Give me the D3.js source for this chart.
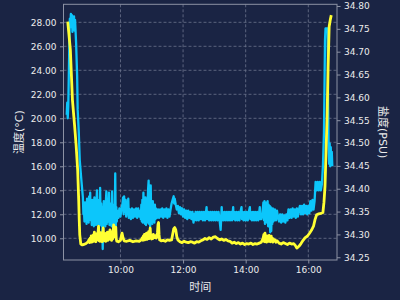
<!DOCTYPE html>
<html><head><meta charset="utf-8">
<script src="https://cdn.jsdelivr.net/npm/d3@7"></script>
<style>html,body{margin:0;padding:0;background:#1a2444;} svg{display:block}</style>
</head><body><svg id="c" width="400" height="300"></svg>
<script>
// Temperature (°C), left axis
const temperature = [
["08:17",20.3],["08:18",21.3],["08:19",20.0],["08:20",21.0],["08:21",23.5],["08:22",26.0],["08:23",28.3],["08:24",27.6],["08:25",28.7],["08:26",27.9],["08:27",28.6],["08:28",27.2],["08:29",28.4],["08:30",27.5],["08:31",28.5],["08:32",27.3],["08:33",28.2],
["08:35",26.3],["08:37",23.5],["08:38",20.7],["08:40",19.0],["08:42",16.5],["08:45",14.9],["08:48",13.4],["08:49",12.0],
["08:50",12.3],["08:51",11.4],["08:52",13.0],["08:53",11.5],["08:54",12.8],["08:55",11.2],["08:56",13.3],["08:57",11.6],["08:58",12.5],["08:59",11.3],
["09:00",13.5],["09:01",11.7],["09:02",13.8],["09:03",11.5],["09:04",12.9],["09:05",11.1],["09:06",13.2],["09:07",11.4],["09:08",12.6],["09:09",11.0],
["09:10",13.4],["09:11",11.3],["09:12",12.8],["09:13",11.1],["09:14",13.0],["09:15",14.0],["09:16",11.2],["09:17",12.7],["09:18",11.4],["09:19",13.2],
["09:20",11.1],["09:21",14.2],["09:22",11.6],["09:23",12.9],["09:24",11.0],["09:25",12.6],["09:26",9.1],["09:27",11.8],["09:28",13.1],["09:29",11.2],
["09:30",12.7],["09:31",11.0],["09:32",13.0],["09:33",13.9],["09:34",11.2],["09:35",12.8],["09:36",11.4],["09:37",12.5],["09:38",13.8],["09:39",11.1],
["09:40",12.6],["09:41",11.3],["09:42",12.9],["09:43",11.0],["09:44",13.9],["09:45",11.5],["09:46",12.4],["09:47",10.7],["09:48",12.8],["09:49",11.2],
["09:50",15.4],["09:51",11.0],["09:52",12.6],["09:53",11.4],["09:54",12.3],
["09:56",11.7],["09:58",12.5],["10:00",11.8],["10:02",12.5],["10:04",12.9],["10:05",13.4],["10:06",12.0],["10:07",13.5],["10:08",12.2],["10:10",13.2],
["10:11",11.8],["10:13",12.5],["10:15",13.3],["10:16",11.7],["10:18",12.4],["10:20",11.6],["10:22",12.5],["10:24",11.7],["10:26",12.4],["10:28",11.8],
["10:30",12.5],["10:32",11.7],["10:34",12.5],["10:36",11.8],
["10:38",12.3],["10:39",11.6],["10:40",12.8],["10:41",11.4],["10:42",13.2],["10:43",11.3],["10:44",13.8],["10:45",11.5],["10:46",12.9],["10:47",11.2],
["10:48",13.4],["10:49",11.1],["10:50",13.0],["10:51",11.3],["10:52",12.7],["10:53",14.1],["10:54",14.8],["10:55",11.2],["10:56",13.3],["10:57",11.0],
["10:58",14.4],["10:59",11.4],["11:00",12.9],["11:01",11.2],["11:02",13.1],["11:03",11.5],["11:04",12.7],["11:05",11.3],["11:06",12.8],["11:07",11.6],
["11:08",12.5],["11:10",11.7],["11:12",12.4],["11:14",11.7],["11:16",12.4],["11:18",11.8],["11:20",12.5],["11:22",11.7],["11:24",12.4],["11:26",11.8],
["11:28",12.5],["11:30",11.7],["11:32",12.4],["11:34",11.8],["11:36",12.4],["11:38",12.9],["11:40",13.2],["11:42",13.5],["11:43",12.9],["11:44",13.3],
["11:46",12.8],["11:48",12.4],["11:50",12.7],["11:52",12.1],["11:54",12.6],["11:56",12.0],["11:58",12.5],["12:00",11.8],["12:02",12.4],["12:04",11.7],
["12:06",12.3],["12:08",11.6],["12:10",12.3],["12:12",11.7],["12:14",12.2],["12:16",11.6],["12:18",12.2],["12:20",11.3],["12:21",12.0],["12:22",11.5],
["12:24",12.2],["12:26",11.5],["12:28",12.2],["12:30",11.5],["12:32",12.2],["12:34",11.6],["12:36",12.2],["12:38",11.5],["12:40",12.2],["12:42",11.5],
["12:44",12.2],["12:45",12.6],["12:46",11.6],["12:48",12.2],["12:50",11.5],["12:52",12.2],["12:54",11.5],["12:56",12.2],["12:58",11.5],["13:00",12.2],
["13:02",11.5],["13:04",12.2],["13:06",11.5],["13:08",12.2],["13:10",11.5],["13:12",10.7],["13:13",11.6],["13:14",12.6],["13:15",11.5],["13:16",12.2],
["13:18",11.5],["13:20",12.2],["13:22",11.5],["13:24",12.2],["13:26",11.5],["13:28",12.2],["13:30",11.5],["13:32",12.2],["13:34",11.5],["13:36",12.6],
["13:37",11.6],["13:38",12.2],["13:40",11.5],["13:42",12.2],["13:44",11.5],["13:46",12.2],["13:48",11.5],["13:50",12.2],["13:52",12.6],["13:53",11.6],
["13:54",12.2],["13:56",11.5],["13:58",12.2],["14:00",11.5],["14:02",12.2],["14:04",11.5],["14:06",12.2],["14:08",12.6],["14:09",11.6],["14:10",12.2],
["14:12",11.5],["14:14",12.2],["14:16",11.5],["14:18",12.2],["14:20",11.5],["14:22",12.2],["14:24",11.5],["14:26",12.2],["14:27",12.6],["14:28",11.6],
["14:30",11.6],["14:32",12.1],["14:34",13.0],["14:35",11.5],["14:36",13.1],["14:37",11.2],["14:38",13.0],["14:39",11.6],["14:40",12.9],["14:41",11.3],
["14:42",13.1],["14:43",11.0],["14:44",12.8],["14:45",11.4],["14:46",12.7],["14:47",10.5],["14:48",12.6],["14:49",10.6],["14:50",12.4],["14:51",11.2],
["14:52",12.5],["14:53",11.4],["14:54",12.3],["14:55",11.5],["14:56",12.4],["14:58",11.5],["15:00",12.3],["15:02",11.7],["15:04",11.4],["15:06",12.0],
["15:08",11.3],["15:10",12.0],["15:12",11.4],["15:14",11.9],["15:16",11.3],["15:18",12.0],["15:20",11.5],["15:22",12.4],["15:24",11.7],["15:26",12.4],
["15:28",11.7],["15:30",12.5],["15:32",11.8],["15:34",12.4],["15:36",11.7],["15:38",12.5],["15:40",11.8],["15:42",12.4],["15:44",12.7],["15:46",12.0],
["15:48",12.7],["15:50",12.0],["15:52",12.8],["15:54",12.1],["15:56",12.7],["15:58",12.0],["16:00",12.7],["16:02",12.1],["16:04",13.1],["16:06",12.3],
["16:08",13.2],["16:10",12.4],["16:12",13.1],["16:14",14.7],["16:16",14.0],["16:18",14.7],["16:20",14.0],["16:22",14.7],["16:24",14.0],["16:26",14.5],
["16:28",16.0],["16:30",18.8],["16:31",22.4],["16:32",26.5],["16:33",27.5],["16:37",27.5],["16:38",21.0],["16:39",17.8],["16:40",16.2],["16:41",17.9],
["16:42",16.0],["16:43",17.6],["16:44",16.3],["16:45",17.2],["16:46",16.0]
];
// Salinity (PSU), right axis
const salinity = [
["08:19",34.766],["08:24",34.704],["08:28",34.594],["08:32",34.540],["08:35",34.496],["08:38",34.441],["08:40",34.375],["08:41",34.332],["08:42",34.299],["08:44",34.279],
["08:47",34.277],["08:50",34.278],["08:54",34.280],["08:58",34.284],["09:00",34.289],["09:01",34.282],["09:02",34.292],["09:03",34.284],["09:04",34.297],["09:05",34.283],
["09:06",34.293],["09:07",34.286],["09:08",34.299],["09:09",34.285],["09:10",34.305],["09:11",34.287],["09:12",34.296],["09:13",34.284],["09:14",34.301],["09:15",34.288],
["09:16",34.290],["09:17",34.303],["09:18",34.318],["09:19",34.286],["09:20",34.298],["09:21",34.285],["09:22",34.304],["09:23",34.287],["09:24",34.300],["09:25",34.284],
["09:27",34.314],["09:28",34.289],["09:29",34.302],["09:30",34.286],["09:31",34.299],["09:32",34.285],["09:33",34.303],["09:34",34.288],["09:35",34.305],["09:36",34.287],
["09:38",34.291],["09:39",34.304],["09:40",34.310],["09:41",34.289],["09:42",34.302],["09:43",34.287],["09:44",34.306],["09:45",34.290],["09:47",34.321],["09:48",34.295],
["09:49",34.312],["09:50",34.300],["09:51",34.316],["09:52",34.290],["09:53",34.285],["09:56",34.284],["10:00",34.287],["10:03",34.303],["10:05",34.292],["10:07",34.286],
["10:12",34.285],["10:18",34.287],["10:24",34.284],["10:30",34.286],["10:36",34.285],["10:40",34.288],["10:42",34.293],["10:43",34.287],["10:44",34.297],["10:45",34.289],
["10:46",34.300],["10:47",34.288],["10:48",34.296],["10:49",34.290],["10:50",34.303],["10:51",34.289],["10:52",34.299],["10:53",34.294],["10:54",34.306],["10:55",34.291],
["10:57",34.314],["10:58",34.292],["10:59",34.298],["11:00",34.290],["11:01",34.296],["11:02",34.291],["11:03",34.300],["11:05",34.293],["11:07",34.297],["11:09",34.292],
["11:11",34.305],["11:12",34.322],["11:13",34.326],["11:14",34.300],["11:15",34.288],["11:18",34.286],["11:22",34.287],["11:26",34.285],["11:30",34.288],["11:34",34.287],
["11:38",34.288],["11:40",34.300],["11:42",34.312],["11:44",34.315],["11:46",34.310],["11:48",34.295],["11:50",34.288],["11:54",34.284],["11:58",34.282],["12:02",34.285],
["12:06",34.283],["12:10",34.282],["12:14",34.284],["12:18",34.283],["12:22",34.281],["12:26",34.284],["12:30",34.283],["12:34",34.286],["12:38",34.288],["12:42",34.291],
["12:46",34.289],["12:50",34.293],["12:54",34.290],["12:58",34.294],["13:02",34.295],["13:06",34.291],["13:10",34.288],["13:14",34.290],["13:18",34.287],["13:22",34.289],
["13:26",34.286],["13:30",34.285],["13:34",34.281],["13:38",34.283],["13:42",34.280],["13:46",34.282],["13:50",34.279],["13:54",34.281],["13:58",34.278],["14:02",34.280],
["14:06",34.279],["14:10",34.281],["14:14",34.278],["14:18",34.280],["14:22",34.279],["14:26",34.281],["14:30",34.283],["14:33",34.290],["14:35",34.300],["14:36",34.284],
["14:37",34.303],["14:38",34.286],["14:39",34.295],["14:40",34.283],["14:41",34.297],["14:42",34.288],["14:43",34.294],["14:44",34.285],["14:45",34.298],["14:46",34.289],
["14:47",34.293],["14:48",34.284],["14:49",34.296],["14:50",34.287],["14:51",34.292],["14:52",34.283],["14:53",34.290],["14:54",34.285],["14:56",34.288],["14:58",34.283],
["15:00",34.286],["15:04",34.281],["15:08",34.279],["15:12",34.282],["15:16",34.280],["15:20",34.278],["15:24",34.281],["15:28",34.279],["15:32",34.280],["15:35",34.276],
["15:38",34.270],["15:42",34.274],["15:46",34.280],["15:50",34.287],["15:54",34.293],["15:58",34.296],["16:02",34.302],["16:06",34.309],["16:10",34.318],["16:13",34.333],
["16:16",34.343],["16:20",34.345],["16:24",34.346],["16:28",34.348],["16:30",34.370],["16:32",34.405],["16:34",34.480],["16:36",34.560],["16:38",34.667],["16:40",34.755],
["16:42",34.769],["16:44",34.780]
];
const timeTicks = ["10:00","12:00","14:00","16:00"];
const tempTicks = [10,12,14,16,18,20,22,24,26,28];
const salTicks = [34.25,34.30,34.35,34.40,34.45,34.50,34.55,34.60,34.65,34.70,34.75,34.80];
const timeLimits = ["08:10:51","16:55:00"];
const tempLimits = [8.19, 29.5];
const salLimits = [34.244, 34.8037];
const labels = {x:"时间", left:"温度(°C)", right:"盐度(PSU)"};

const parse = s => { const p = s.split(":").map(Number); return new Date(2000,0,1,p[0],p[1],p[2]||0); };
const L=63.5, R=337, T=4.3, B=260;
const svg = d3.select("#c");
svg.append("rect").attr("width",400).attr("height",300).attr("fill","#1a2444");
const x = d3.scaleTime().domain(timeLimits.map(parse)).range([L,R]);
const yT = d3.scaleLinear().domain(tempLimits).range([B,T]);
const yS = d3.scaleLinear().domain(salLimits).range([B,T]);
const font = "'DejaVu Sans', 'Noto Sans CJK SC', sans-serif";
const gridCol = "#7c849c", spineCol = "#8c92a4", txt = "#ececec";

// grid
const grid = svg.append("g").attr("stroke",gridCol).attr("stroke-width",0.8).attr("stroke-dasharray","3,2").attr("opacity",0.85);
grid.selectAll(".gx").data(timeTicks).join("line").attr("x1",d=>x(parse(d))).attr("x2",d=>x(parse(d))).attr("y1",T).attr("y2",B);
grid.selectAll(".gy").data(tempTicks).join("line").attr("x1",L).attr("x2",R).attr("y1",d=>yT(d)).attr("y2",d=>yT(d));

// lines
svg.append("clipPath").attr("id","cp").append("rect").attr("x",L).attr("y",T).attr("width",R-L).attr("height",B-T);
const lineT = d3.line().x(d=>x(parse(d[0]))).y(d=>yT(d[1]));
const lineS = d3.line().x(d=>x(parse(d[0]))).y(d=>yS(d[1]));
svg.append("path").datum(temperature).attr("d",lineT).attr("fill","none").attr("stroke","#0cc6fb").attr("stroke-width",2.3).attr("stroke-linejoin","round").attr("clip-path","url(#cp)");
svg.append("path").datum(salinity).attr("d",lineS).attr("fill","none").attr("stroke","#ffff33").attr("stroke-width",2.8).attr("stroke-linejoin","round").attr("clip-path","url(#cp)");

// frame
svg.append("rect").attr("x",L).attr("y",T).attr("width",R-L).attr("height",B-T).attr("fill","none").attr("stroke",spineCol).attr("stroke-width",1);

function style(g){
  g.select(".domain").remove();
  g.selectAll(".tick line").attr("stroke",spineCol);
  g.selectAll(".tick text").attr("fill",txt).style("font-family",font).style("font-size","9px");
}
svg.append("g").attr("transform",`translate(0,${B})`)
  .call(d3.axisBottom(x).tickValues(timeTicks.map(parse)).tickFormat(d3.timeFormat("%H:%M")).tickSize(3.5).tickPadding(3.5)).call(style);
svg.append("g").attr("transform",`translate(${L},0)`)
  .call(d3.axisLeft(yT).tickValues(tempTicks).tickFormat(d3.format(".2f")).tickSize(3.5).tickPadding(3.5)).call(style);
svg.append("g").attr("transform",`translate(${R},0)`)
  .call(d3.axisRight(yS).tickValues(salTicks).tickFormat(d3.format(".2f")).tickSize(3.5).tickPadding(3.5)).call(style);

// axis titles
svg.append("text").attr("x",(L+R)/2).attr("y",291).attr("text-anchor","middle").attr("fill",txt)
  .style("font-family",font).style("font-size","11px").text(labels.x);
svg.append("text").attr("transform",`translate(23,${(T+B)/2}) rotate(-90)`).attr("text-anchor","middle").attr("fill",txt)
  .style("font-family",font).style("font-size","11px").text(labels.left);
svg.append("text").attr("transform",`translate(379,${(T+B)/2}) rotate(90)`).attr("text-anchor","middle").attr("fill",txt)
  .style("font-family",font).style("font-size","11px").text(labels.right);
</script></body></html>
